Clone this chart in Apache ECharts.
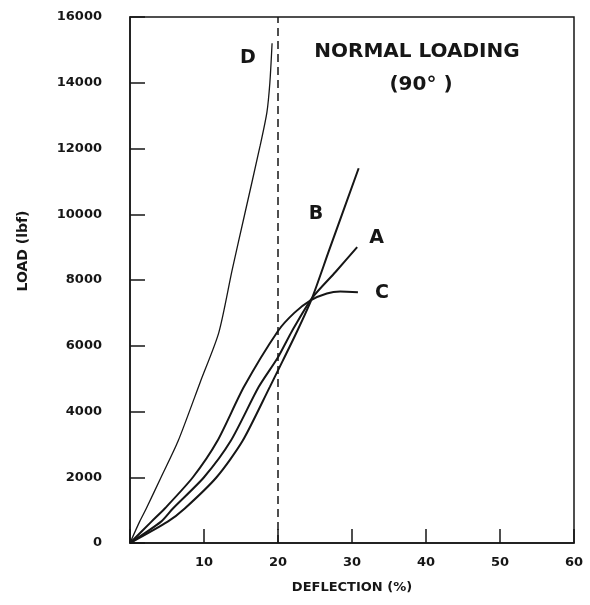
<!DOCTYPE html>
<html lang="en">
<head>
	<meta charset="UTF-8">
	<title>Normal loading</title>
	<style>
		html, body { margin: 0; padding: 0; background: #fff; }
		#main { width: 590px; height: 605px; }
	</style>
</head>
<body>
	<div id="main"></div>

	<script src="https://cdn.jsdelivr.net/npm/echarts@6/dist/echarts.min.js"></script>
	<script>
		// deflection (%), load (lbf)
		var curveA = [[0, 0], [4.2, 650], [5.8, 1050], [10, 2000], [13.6, 3100], [17.4, 4750], [20, 5650], [21.9, 6450], [24.6, 7450], [27.8, 8250], [30.7, 9000]];
		var curveB = [[0, 0], [5.1, 650], [7.4, 1050], [11.7, 2000], [15.2, 3100], [18.9, 4750], [20, 5250], [22.6, 6450], [24.6, 7450], [26.9, 8900], [30.9, 11400]];
		var curveC = [[0, 0], [2.9, 650], [4.7, 1050], [8.5, 2000], [11.8, 3100], [15.4, 4750], [20, 6450], [22.2, 7000], [24.4, 7380], [26.6, 7590], [28.4, 7650], [30.8, 7630]];
		var curveD = [[0, 0], [1.3, 650], [2.2, 1050], [4.2, 2000], [6.5, 3100], [9.5, 4900], [12, 6400], [13.8, 8300], [15.5, 10000], [17.6, 12100], [18.5, 13100], [18.9, 14000], [19.2, 15200]];
		var limitDeflection = 20;

		var font = 'DejaVu Sans';
		var ink = '#161616';

		var myChart = echarts.init(document.getElementById('main'));

		function curve(name, data, width, offset) {
			return {
				name: name,
				type: 'line',
				data: data,
				symbol: 'none',
				smooth: 0.25,
				lineStyle: { color: ink, width: width },
				endLabel: {
					show: true,
					formatter: name,
					offset: offset,
					color: ink,
					fontFamily: font,
					fontWeight: 'bold',
					fontSize: 19
				},
				z: 3
			};
		}

		var seriesList = [
			curve('A', curveA, 2, [4, -9]),
			curve('B', curveB, 2, [-58, 46]),
			curve('C', curveC, 2, [9, 1]),
			curve('D', curveD, 1.3, [-40, 15])
		];
		// dashed 20% line
		seriesList[0].markLine = {
			silent: true,
			symbol: 'none',
			label: { show: false },
			lineStyle: { color: ink, type: [8, 5], width: 1.5 },
			data: [{ xAxis: limitDeflection }]
		};

		var option = {
			animation: false,
			grid: {
				left: 130,
				right: 16,
				top: 17,
				bottom: 62,
				show: true,
				borderColor: ink,
				borderWidth: 1.5
			},
			xAxis: {
				type: 'value',
				min: 0,
				max: 60,
				interval: 10,
				name: 'DEFLECTION (%)',
				nameLocation: 'middle',
				nameGap: 38,
				nameTextStyle: { color: ink, fontFamily: font, fontWeight: 'bold', fontSize: 13 },
				axisLine: { lineStyle: { color: ink, width: 1.5 } },
				axisTick: { inside: true, length: 14, lineStyle: { color: ink, width: 1.5 } },
				axisLabel: {
					margin: 13,
					color: ink,
					fontFamily: font,
					fontWeight: 'bold',
					fontSize: 13,
					formatter: function (v) { return v === 0 ? '' : String(v); }
				},
				splitLine: { show: false }
			},
			yAxis: {
				type: 'value',
				min: 0,
				max: 16000,
				interval: 2000,
				axisLine: { lineStyle: { color: ink, width: 1.5 } },
				axisTick: { inside: true, length: 15, lineStyle: { color: ink, width: 1.5 } },
				axisLabel: {
					margin: 28,
					color: ink,
					fontFamily: font,
					fontWeight: 'bold',
					fontSize: 13,
					formatter: function (v) { return String(v); }
				},
				splitLine: { show: false }
			},
			graphic: [
				{
					type: 'text', x: 23, y: 251, rotation: Math.PI / 2,
					style: { text: 'LOAD (lbf)', fill: ink, font: 'bold 14px "DejaVu Sans"', textAlign: 'center', textVerticalAlign: 'middle' }
				},
				{
					type: 'text', x: 417, y: 52,
					style: { text: 'NORMAL LOADING', fill: ink, font: 'bold 20px "DejaVu Sans"', textAlign: 'center', textVerticalAlign: 'middle' }
				},
				{
					type: 'text', x: 421, y: 85,
					style: { text: '(90° )', fill: ink, font: 'bold 20px "DejaVu Sans"', textAlign: 'center', textVerticalAlign: 'middle' }
				}
			],
			series: seriesList
		};

		myChart.setOption(option);
	</script>
</body>
</html>
